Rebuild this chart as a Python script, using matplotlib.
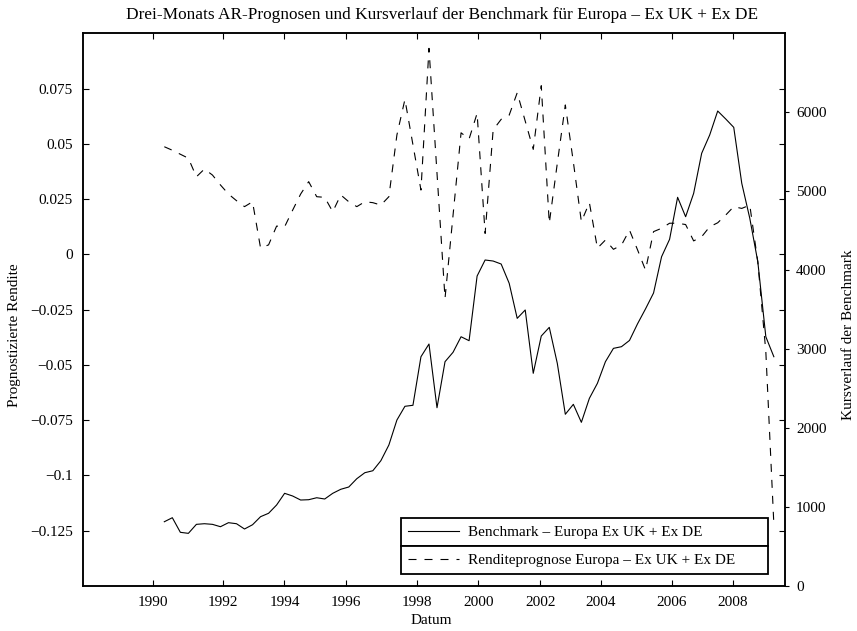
import numpy as np
import matplotlib
matplotlib.use("Agg")
import matplotlib.pyplot as plt
from matplotlib.ticker import FuncFormatter

plt.rcParams["font.family"] = ["Liberation Serif", "DejaVu Serif"]
plt.rcParams["font.size"] = 11

# quarterly observations, 1990 Q2 .. 2009 Q2 (mid-quarter, fractional years)
dates = 1990.375 + 0.25 * np.arange(77)

benchmark = [
    814, 865, 680, 667, 781, 789, 781, 751, 802, 789,
    722, 776, 878, 921, 1026, 1174, 1140, 1089, 1093, 1118,
    1102, 1174, 1225, 1254, 1359, 1435, 1460, 1587, 1786, 2102,
    2276, 2289, 2904, 3065, 2258, 2841, 2960, 3157, 3107, 3926,
    4129, 4116, 4078, 3834, 3390, 3496, 2694, 3166, 3276, 2820,
    2175, 2301, 2073, 2377, 2567, 2841, 3010, 3031, 3110, 3320,
    3510, 3711, 4170, 4391, 4923, 4677, 4973, 5480, 5712, 6016,
    5915, 5809, 5100, 4657, 4107, 3157, 2904,
]

forecast = [
    0.0487, 0.0471, 0.0453, 0.0435, 0.0351, 0.0386, 0.0359, 0.0314, 0.0273, 0.0243,
    0.0216, 0.0238, 0.0029, 0.0043, 0.0128, 0.0125, 0.0200, 0.0273, 0.0329, 0.0261,
    0.0258, 0.0193, 0.0269, 0.0238, 0.0216, 0.0238, 0.0234, 0.0223, 0.0261, 0.0540,
    0.0701, 0.0496, 0.0291, 0.0932, 0.0367, -0.0199, 0.0177, 0.0550, 0.0522, 0.0638,
    0.0095, 0.0563, 0.0611, 0.0630, 0.0731, 0.0603, 0.0475, 0.0763, 0.0141, 0.0412,
    0.0676, 0.0418, 0.0148, 0.0234, 0.0028, 0.0065, 0.0023, 0.0042, 0.0110, 0.0021,
    -0.0071, 0.0103, 0.0118, 0.0141, 0.0141, 0.0135, 0.0061, 0.0080, 0.0125, 0.0143,
    0.0178, 0.0216, 0.0208, 0.0223, -0.0034, -0.0440, -0.1220,
]

year_ticks = [1990.02, 1992.21, 1994.12, 1996.04, 1998.24,
              2000.16, 2002.09, 2003.99, 2006.19, 2008.09]
year_labels = ["1990", "1992", "1994", "1996", "1998",
               "2000", "2002", "2004", "2006", "2008"]
left_ticks = [-0.125, -0.1, -0.075, -0.05, -0.025, 0, 0.025, 0.05, 0.075]
right_ticks = [0, 1000, 2000, 3000, 4000, 5000, 6000]


def fmt(v, pos):
    s = "%g" % v
    return s.replace("-", "\u2212")


fig = plt.figure(figsize=(8.57, 6.31), dpi=100)
ax1 = fig.add_axes([0.0965, 0.0713, 0.8195, 0.8759])
ax2 = ax1.twinx()

lw = 0.8
l2, = ax1.plot(dates, forecast, color="black", lw=lw, linestyle=(0, (7.2, 7.2)),
               label="Renditeprognose Europa \u2013 Ex UK + Ex DE")
l1, = ax2.plot(dates, benchmark, color="black", lw=lw,
               label="Benchmark \u2013 Europa Ex UK + Ex DE")

ax1.set_xlim(1987.831, 2009.723)
ax1.set_ylim(-0.15, 0.1)
ax2.set_ylim(0, 7000)

ax1.set_xticks(year_ticks, labels=year_labels)
ax1.set_yticks(left_ticks)
ax1.yaxis.set_major_formatter(FuncFormatter(fmt))
ax2.set_yticks(right_ticks)
ax2.yaxis.set_major_formatter(FuncFormatter(fmt))

ax1.tick_params(direction="in", length=4.5, width=0.8, top=True, right=True,
                labelright=False, pad=7, labelsize=11)
ax2.tick_params(direction="out", length=3, width=0.8, pad=5, labelsize=11)

for ax in (ax1, ax2):
    for sp in ax.spines.values():
        sp.set_linewidth(1.1)

ax1.set_title("Drei-Monats AR-Prognosen und Kursverlauf der Benchmark f\u00fcr Europa \u2013 Ex UK + Ex DE",
              fontsize=12.4, x=0.511, pad=10)
ax1.set_xlabel("Datum")
ax1.set_ylabel("Prognostizierte Rendite")
ax2.set_ylabel("Kursverlauf der Benchmark")
ax1.xaxis.label.set_va("center")
ax1.xaxis.set_label_coords(0.497, -0.0615)
ax1.yaxis.label.set_va("center")
ax1.yaxis.set_label_coords(-0.0978, 0.454)
ax2.yaxis.label.set_va("center")
ax2.yaxis.set_label_coords(1.09, 0.454)

leg_kw = dict(loc="upper left", mode="expand", bbox_transform=fig.transFigure,
              borderaxespad=0, fancybox=False, edgecolor="black", framealpha=1,
              handlelength=3.3, handletextpad=0.6, borderpad=0.48, fontsize=11)
lg1 = fig.legend(handles=[l1], bbox_to_anchor=(0.4679, 0.1791, 0.4282, 0), **leg_kw)
lg2 = fig.legend(handles=[l2], bbox_to_anchor=(0.4679, 0.1347, 0.4282, 0), **leg_kw)
for lg in (lg1, lg2):
    lg.get_frame().set_linewidth(1.3)

fig.savefig("out.png", dpi=100)
